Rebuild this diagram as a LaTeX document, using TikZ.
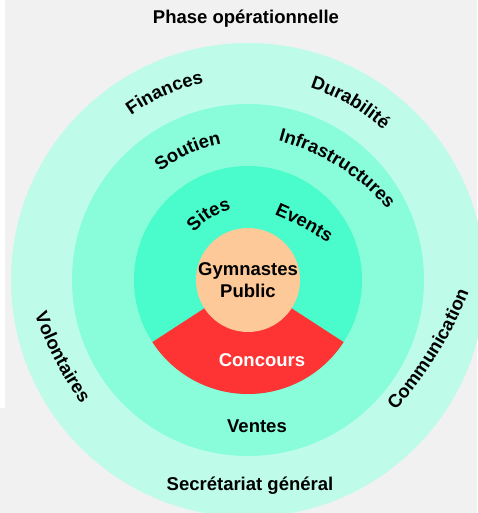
\documentclass[tikz,border=0pt]{standalone}
\usepackage{fontspec}
\setmainfont{Liberation Sans}
\definecolor{PageGray}{RGB}{241,241,241}
\definecolor{RingOuter}{RGB}{190,252,233}
\definecolor{RingMiddle}{RGB}{137,252,217}
\definecolor{RingInner}{RGB}{74,252,203}
\definecolor{CoreFill}{RGB}{254,201,152}
\definecolor{SectorRed}{RGB}{254,52,52}
\newcommand{\ringFont}{\bfseries\fontsize{18.5}{22}\selectfont}
\usetikzlibrary{decorations.text}
\tikzset{
  ringText/.style={decorate, decoration={text along path, text align=center,
      text={|\ringFont|#1}}},
  ringLabel/.style={font=\ringFont, inner sep=0pt, anchor=base}
}

\begin{document}
\begin{tikzpicture}[x=1pt, y=1pt]

\useasboundingbox (-248,-233) rectangle (229,280);
\fill[PageGray] (-248,-233) rectangle (229,280);
\fill[white] (-248,280) rectangle (-243,-128);

\coordinate (O) at (0,0);

%% Anillos concentricos
\fill[RingOuter] (O) circle (237pt);
\fill[RingMiddle] (O) circle (176pt);
\fill[RingInner] (O) circle (114pt);
% Sector rojo
\fill[SectorRed] (O) -- (213:114pt) arc[start angle=213, end angle=327, radius=114pt] -- cycle;
\fill[CoreFill] (O) circle (52pt);

%% Textos rectos
\node[ringLabel] (phase) at (-2,256) {Phase opérationnelle};
\node[ringLabel] (secretariat) at (2,-210) {Secrétariat général};
\node[ringLabel] (ventes) at (9,-152) {Ventes};
\node[ringLabel, text=white] (concours) at (14,-86) {Concours};
\node[font=\ringFont, align=center, inner sep=0pt] (core) at (O) {Gymnastes\\Public};

%% Textos curvos (centros de los arcos)
\coordinate (InfraC) at (-26.5,-73.3);
\coordinate (EventsC) at (-130.3,-302.6);
\coordinate (VoloC) at (161.9,103.8);
\coordinate (CommC) at (-150.5,136.4);

\path[ringText=Finances] ([shift={(139:202pt)}]O) arc[start angle=139, end angle=89, radius=202pt];
\path[ringText=Durabilité] ([shift={(85:202pt)}]O) arc[start angle=85, end angle=35, radius=202pt];
\path[ringText=Soutien] ([shift={(140:139pt)}]O) arc[start angle=140, end angle=90, radius=139pt];
\path[ringText=Infrastructures] ([shift={(83:220pt)}]InfraC) arc[start angle=83, end angle=33, radius=220pt];
\path[ringText=Sites] ([shift={(151:72pt)}]O) arc[start angle=151, end angle=91, radius=72pt];
\path[ringText=Events] ([shift={(72.6:400pt)}]EventsC) arc[start angle=72.6, end angle=52.6, radius=400pt];
\path[ringText=Volontaires] ([shift={(195.5:400pt)}]VoloC) arc[start angle=195.5, end angle=219.5, radius=400pt];
\path[ringText=Communication] ([shift={(-43.8:400pt)}]CommC) arc[start angle=-43.8, end angle=-19.8, radius=400pt];

\end{tikzpicture}
\end{document}
